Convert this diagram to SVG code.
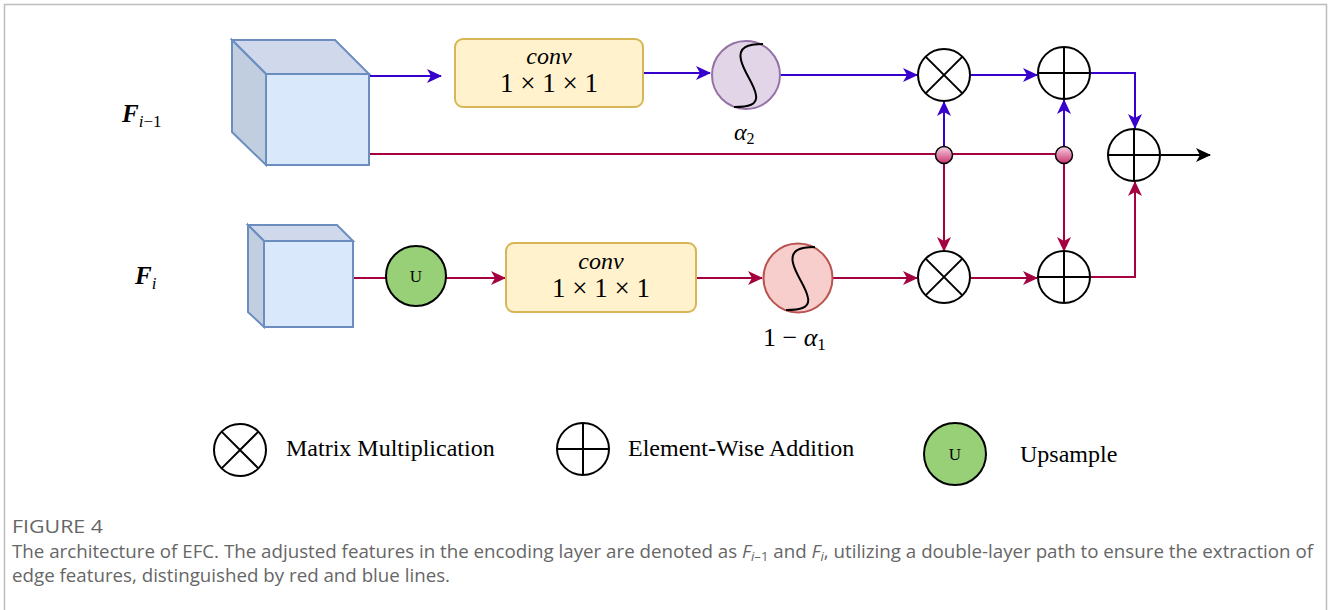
<svg xmlns="http://www.w3.org/2000/svg" width="1328" height="610" viewBox="0 0 1328 610">
<style>
.blue{stroke:#3700CC;stroke-width:2;fill:none}
.red{stroke:#A50040;stroke-width:2;fill:none}
.blk{stroke:#000;stroke-width:2;fill:none}
.op{fill:#fff;stroke:#000;stroke-width:2}
.cubeF{fill:#dae8fc;stroke:#6c8ebf;stroke-width:2}
.cubeT{fill:#d0d9ec;stroke:#6c8ebf;stroke-width:2}
.cubeS{fill:#c1cee0;stroke:#6c8ebf;stroke-width:2}
.conv{fill:#fff2cc;stroke:#d6b656;stroke-width:2}
.math{font-family:"Liberation Serif",serif;fill:#000}
.it{font-style:italic}
.leg{font-family:"Liberation Serif",serif;font-size:24px;fill:#000}
.cap{font-family:"Open Sans",sans-serif;fill:#666;font-size:18.5px}
.sig{stroke:#000;stroke-width:2;fill:none}
</style>
<defs>
<marker id="ab" markerUnits="userSpaceOnUse" markerWidth="16" markerHeight="14" refX="14" refY="7" orient="auto"><path d="M0,0 L15,7 L0,14 L4,7 Z" fill="#3700CC"/></marker>
<marker id="ar" markerUnits="userSpaceOnUse" markerWidth="16" markerHeight="14" refX="14" refY="7" orient="auto"><path d="M0,0 L15,7 L0,14 L4,7 Z" fill="#A50040"/></marker>
<marker id="ak" markerUnits="userSpaceOnUse" markerWidth="16" markerHeight="14" refX="14" refY="7" orient="auto"><path d="M0,0 L15,7 L0,14 L4,7 Z" fill="#000"/></marker>
<linearGradient id="dot" x1="0" y1="0" x2="0" y2="1"><stop offset="0" stop-color="#f7d3e4"/><stop offset="1" stop-color="#c9336f"/></linearGradient>
</defs>
<rect width="1328" height="610" fill="#fff"/>
<path d="M4.5,610 V4.5 H1326.5 V610" fill="none" stroke="#bdbdbd" stroke-width="1.5"/>

<g id="connectors">
<path class="blue" d="M369,76 H441" marker-end="url(#ab)"/>
<path class="blue" d="M643,73 H710" marker-end="url(#ab)"/>
<path class="blue" d="M780,75 H917" marker-end="url(#ab)"/>
<path class="blue" d="M970,75 H1037" marker-end="url(#ab)"/>
<path class="blue" d="M1090,73 H1135 V128" marker-end="url(#ab)"/>
<path class="blue" d="M944,147 V102" marker-end="url(#ab)"/>
<path class="blue" d="M1064,147 V100" marker-end="url(#ab)"/>
<path class="red" d="M369,154 H1056"/>
<path class="red" d="M944,163 V251" marker-end="url(#ar)"/>
<path class="red" d="M1064,163 V251" marker-end="url(#ar)"/>
<path class="red" d="M353,278 H386"/>
<path class="red" d="M446,278 H505" marker-end="url(#ar)"/>
<path class="red" d="M696,278 H762" marker-end="url(#ar)"/>
<path class="red" d="M833,278 H917" marker-end="url(#ar)"/>
<path class="red" d="M970,278 H1037" marker-end="url(#ar)"/>
<path class="red" d="M1090,277 H1135 V182" marker-end="url(#ar)"/>
<path class="blk" d="M1161,155 H1210" marker-end="url(#ak)"/>
</g>

<g id="label-Fi-1"><text class="math it" x="122" y="122" font-size="25" font-weight="bold">F<tspan font-size="17" font-weight="normal" dy="5">i</tspan><tspan font-size="17" font-weight="normal" font-style="normal">−1</tspan></text></g>
<g id="label-Fi"><text class="math it" x="135" y="284" font-size="25" font-weight="bold">F<tspan font-size="17" font-weight="normal" dy="5">i</tspan></text></g>

<g id="cube1">
<path class="cubeT" d="M232,40 H335 L369,74 H266 Z"/>
<path class="cubeS" d="M232,40 L266,74 V165 L232,132 Z"/>
<rect class="cubeF" x="266" y="74" width="103" height="91"/>
</g>
<g id="cube2">
<path class="cubeT" d="M248,225 H337 L353,241 H264 Z"/>
<path class="cubeS" d="M248,225 L264,241 V327 L248,312 Z"/>
<rect class="cubeF" x="264" y="241" width="89" height="86"/>
</g>

<g id="conv1">
<rect class="conv" x="455" y="39" width="188" height="68" rx="8"/>
<text class="math it" x="549" y="64" font-size="24" text-anchor="middle">conv</text>
<text class="math" x="549" y="92" font-size="27" text-anchor="middle">1 × 1 × 1</text>
</g>
<g id="conv2">
<rect class="conv" x="506" y="243" width="190" height="69" rx="8"/>
<text class="math it" x="601" y="269" font-size="24" text-anchor="middle">conv</text>
<text class="math" x="601" y="297" font-size="27" text-anchor="middle">1 × 1 × 1</text>
</g>

<g id="sigmoid1" transform="translate(746,75)">
<circle r="34" fill="#e1d5e7" stroke="#9673a6" stroke-width="2"/>
<path class="sig" d="M17,-31 C2,-31 -8,-28 -5,-15 C-2,-2 8,8 10,20 C12,30 2,32 -12,32"/>
</g>
<g id="label-a2"><text class="math it" x="734" y="140" font-size="24">α<tspan font-size="16" font-style="normal" dy="4">2</tspan></text></g>

<g id="sigmoid2" transform="translate(798,278)">
<circle r="34.5" fill="#f8cecc" stroke="#b85450" stroke-width="2"/>
<path class="sig" d="M17,-31 C2,-31 -8,-28 -5,-15 C-2,-2 8,8 10,20 C12,30 2,32 -12,32"/>
</g>
<g id="label-1-a1"><text class="math" x="763" y="346" font-size="26">1 − <tspan font-style="italic">α</tspan><tspan font-size="17" dy="4">1</tspan></text></g>

<g id="upsample">
<circle cx="416" cy="276" r="30" fill="#97d077" stroke="#000" stroke-width="2"/>
<text class="math" x="416" y="282" font-size="17" text-anchor="middle">U</text>
</g>

<g id="mult1"><circle class="op" cx="944" cy="75" r="26"/><path class="blk" d="M925.6,56.6 L962.4,93.4 M962.4,56.6 L925.6,93.4"/></g>
<g id="add1"><circle class="op" cx="1064" cy="73" r="26"/><path class="blk" d="M1038,73 H1090 M1064,47 V99"/></g>
<g id="mult2"><circle class="op" cx="944" cy="277" r="26"/><path class="blk" d="M925.6,258.6 L962.4,295.4 M962.4,258.6 L925.6,295.4"/></g>
<g id="add2"><circle class="op" cx="1064" cy="277" r="26"/><path class="blk" d="M1038,277 H1090 M1064,251 V303"/></g>
<g id="add3"><circle class="op" cx="1134" cy="155" r="26"/><path class="blk" d="M1108,155 H1160 M1134,129 V181"/></g>

<g id="dot1"><circle cx="944" cy="155" r="8.5" fill="url(#dot)" stroke="#000" stroke-width="1.5"/></g>
<g id="dot2"><circle cx="1064" cy="155" r="8.5" fill="url(#dot)" stroke="#000" stroke-width="1.5"/></g>

<g id="legend-mult">
<circle class="op" cx="240" cy="450" r="26"/><path class="blk" d="M221.6,431.6 L258.4,468.4 M258.4,431.6 L221.6,468.4"/>
<text class="leg" x="286" y="456">Matrix Multiplication</text>
</g>
<g id="legend-add">
<circle class="op" cx="583" cy="449" r="26"/><path class="blk" d="M557,449 H609 M583,423 V475"/>
<text class="leg" x="628" y="456">Element-Wise Addition</text>
</g>
<g id="legend-up">
<circle cx="955" cy="454" r="31" fill="#97d077" stroke="#000" stroke-width="2"/>
<text class="math" x="955" y="460" font-size="17" text-anchor="middle">U</text>
<text class="leg" x="1020" y="462">Upsample</text>
</g>

<g id="caption">
<text class="cap" x="12" y="533" font-size="18" fill="#555" textLength="91" lengthAdjust="spacingAndGlyphs">FIGURE 4</text>
<text class="cap" x="12" y="558" textLength="1301" lengthAdjust="spacingAndGlyphs">The architecture of EFC. The adjusted features in the encoding layer are denoted as <tspan font-style="italic">F</tspan><tspan font-style="italic" font-size="13" dy="3">i</tspan><tspan font-size="13">–1</tspan><tspan dy="-3"> and </tspan><tspan font-style="italic">F</tspan><tspan font-style="italic" font-size="13" dy="3">i</tspan><tspan dy="-3">, utilizing a double-layer path to ensure the extraction of</tspan></text>
<text class="cap" x="12" y="582" textLength="438" lengthAdjust="spacingAndGlyphs">edge features, distinguished by red and blue lines.</text>
</g>
</svg>
